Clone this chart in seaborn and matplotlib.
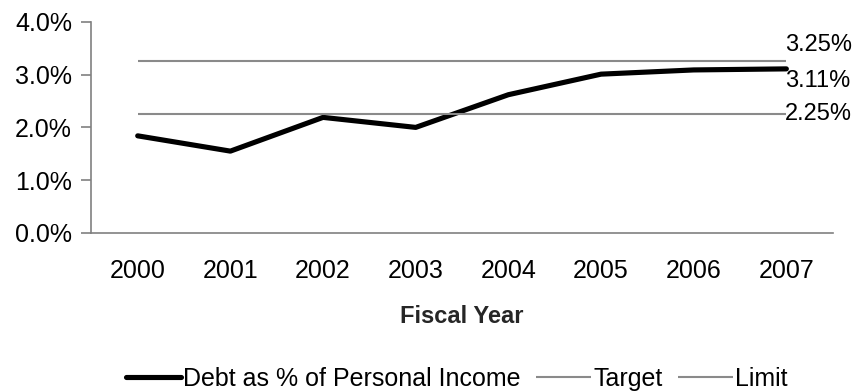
import matplotlib
matplotlib.use("Agg")
import matplotlib.pyplot as plt
import seaborn as sns
import pandas as pd

years = ["2000", "2001", "2002", "2003", "2004", "2005", "2006", "2007"]
debt_pct = [1.84, 1.55, 2.19, 2.00, 2.62, 3.01, 3.09, 3.11]
target = 2.25
limit = 3.25

sns.set_theme(style="white")
plt.rcParams["font.family"] = ["Liberation Sans", "DejaVu Sans"]
plt.rcParams["text.color"] = "black"
plt.rcParams["xtick.color"] = "black"
plt.rcParams["ytick.color"] = "black"

FS = 18

df = pd.DataFrame({"year": years, "debt": debt_pct})
df["x"] = range(len(years))

fig, ax = plt.subplots(figsize=(8.62, 3.92), dpi=100)
fig.subplots_adjust(left=0.106, right=0.966, top=0.944, bottom=0.406)

sns.lineplot(data=df, x="x", y="debt", ax=ax, color="black", linewidth=3.7,
             label="Debt as % of Personal Income", legend=False)
ax.hlines(target, 0, len(years) - 1, color="#8a8a8a", linewidth=1.5,
          label="Target")
ax.hlines(limit, 0, len(years) - 1, color="#8a8a8a", linewidth=1.5,
          label="Limit")

last = len(years) - 1
for value, dy in [(limit, 12), (debt_pct[-1], -9), (target, 0)]:
    ax.annotate(f"{value:.2f}%", xy=(last, value), xytext=(-1, dy),
                textcoords="offset points", fontsize=FS - 1, va="center", ha="left")

ax.set_xlim(-0.5, len(years) - 0.5)
ax.set_ylim(0, 4)
ax.set_yticks([0, 1, 2, 3, 4])
ax.set_yticklabels([f"{v:.1f}%" for v in [0, 1, 2, 3, 4]], fontsize=FS)
ax.set_xticks(df["x"])
ax.set_xticklabels(years, fontsize=FS)

ax.set_xlabel("Fiscal Year", fontsize=FS - 1, fontweight="bold", labelpad=16)
ax.set_ylabel("")

for side in ["top", "right"]:
    ax.spines[side].set_visible(False)
for side in ["left", "bottom"]:
    ax.spines[side].set_color("#808080")
    ax.spines[side].set_linewidth(1.2)
ax.tick_params(axis="y", which="both", left=True, length=7, width=1.2,
               color="#808080", pad=7)
ax.tick_params(axis="x", bottom=False, pad=13)

handles, labels = ax.get_legend_handles_labels()
fig.legend(handles, labels, loc="center", bbox_to_anchor=(0.53, 0.033),
           ncol=3, frameon=False, fontsize=FS, handlelength=2.2,
           handletextpad=0.1, columnspacing=0.6)

fig.savefig("out.png", dpi=100)
